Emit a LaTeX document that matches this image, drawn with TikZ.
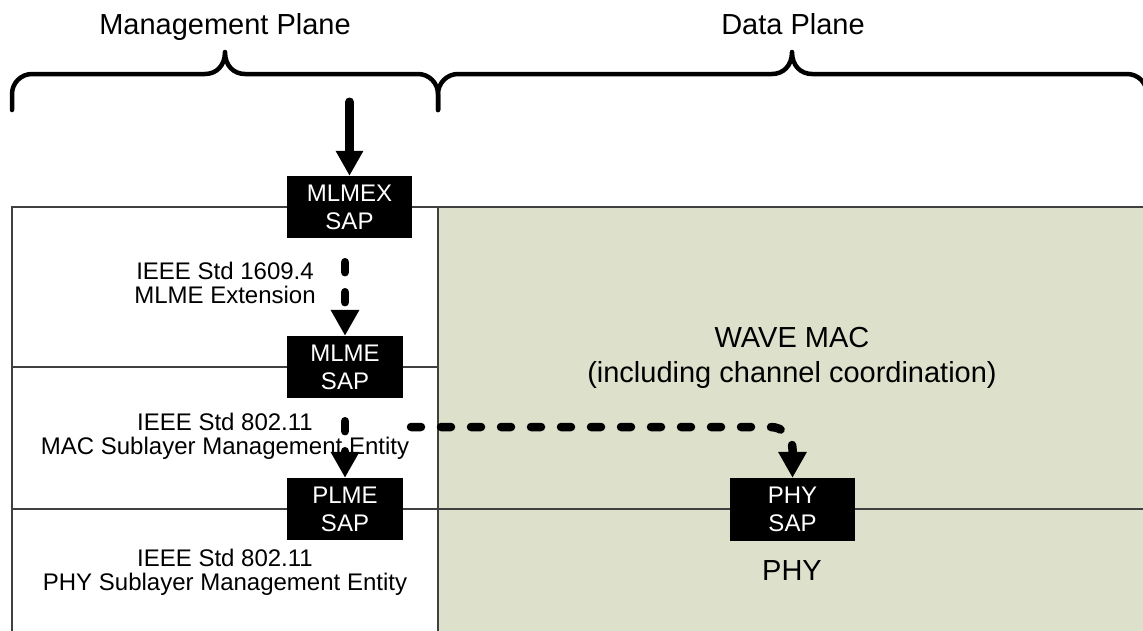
\documentclass[tikz,border=0pt]{standalone}
\usepackage{fontspec}
\setmainfont{Liberation Sans}
\usetikzlibrary{arrows.meta}
\definecolor{dataplane}{RGB}{221,224,203}
\definecolor{frameline}{RGB}{64,64,64}
\tikzset{
  sapbox/.style={fill=black, text=white, inner sep=0pt, align=center,
    font=\fontsize{24pt}{28pt}\selectfont},
  bodytext/.style={align=center, inner sep=0pt, font=\fontsize{24pt}{24pt}\selectfont},
  bigtext/.style={align=center, inner sep=0pt, font=\fontsize{29pt}{35pt}\selectfont},
  frame/.style={draw=frameline, line width=1.5pt},
  solidarrow/.style={line width=9pt, line cap=round, -{Triangle[width=26pt,length=25pt]}},
  dasharrow/.style={line width=8.5pt, line cap=round, dash pattern=on 10pt off 20pt,
    -{Triangle[width=27pt,length=26pt]}},
  bracepath/.style={line width=4.5pt, line cap=round, line join=round},
}
\begin{document}
\begin{tikzpicture}[x=1pt, y=-1pt]
\useasboundingbox (0,0) rectangle (1143,630);
\clip (0,0) rectangle (1143,630);
% background regions
\fill[dataplane] (438,207) rectangle (1150,640);
\draw[frame] (12,640) -- (12,207) -- (1150,207);
\draw[frame] (438,207) -- (438,640);
\draw[frame] (12,367) -- (438,367);
\draw[frame] (12,509) -- (1150,509);
% braces
\draw[bracepath] (12,110) -- (12,94) .. controls (12,83) and (21,74) .. (32,74) -- (205,74)
  .. controls (216,74) and (225,66) .. (225,52) .. controls (225,66) and (234,74) .. (245,74)
  -- (418,74) .. controls (429,74) and (438,83) .. (438,94) -- (438,110);
\draw[bracepath] (438,110) -- (438,94) .. controls (438,83) and (447,74) .. (458,74) -- (772,74)
  .. controls (783,74) and (792,66) .. (792,52) .. controls (792,66) and (801,74) .. (812,74)
  -- (1127,74) .. controls (1138,74) and (1147,83) .. (1147,94) -- (1147,110);
% titles
\node[bigtext, anchor=base] (mgmt) at (225,34) {Management Plane};
\node[bigtext, anchor=base] (data) at (793,34) {Data Plane};
% texts
\node[bodytext] (ext) at (225,283) {IEEE Std 1609.4\\MLME Extension};
\node[bodytext] (mac) at (225,436) {IEEE Std 802.11\\MAC Sublayer Management Entity};
\node[bodytext] (phyme) at (225,572) {IEEE Std 802.11\\PHY Sublayer Management Entity};
\node[bigtext] (wave) at (792,358) {WAVE MAC\\(including channel coordination)};
\node[bigtext, anchor=base] (phylabel) at (792,580) {PHY};
% SAP boxes
\node[sapbox, minimum width=125pt, minimum height=62pt] (mlmex) at (349.5,207) {MLMEX\\SAP};
\node[sapbox, minimum width=116pt, minimum height=62pt] (mlme) at (345,367) {MLME\\SAP};
\node[sapbox, minimum width=116pt, minimum height=62pt] (plme) at (345,509) {PLME\\SAP};
\node[sapbox, minimum width=125pt, minimum height=63pt] (physap) at (792.5,509.5) {PHY\\SAP};
% connectors
\coordinate (topin) at (349.5,102);
\coordinate (macout) at (411,427);
\draw[solidarrow] (topin) -- (mlmex.north);
\draw[dasharrow, shorten <=24pt] (mlme.north |- mlmex.south) -- (mlme.north);
\draw[dasharrow, shorten <=23pt] (mlme.south) -- (plme.north);
\draw[dasharrow, rounded corners=22pt] (macout) -| (physap.north);
\end{tikzpicture}
\end{document}
